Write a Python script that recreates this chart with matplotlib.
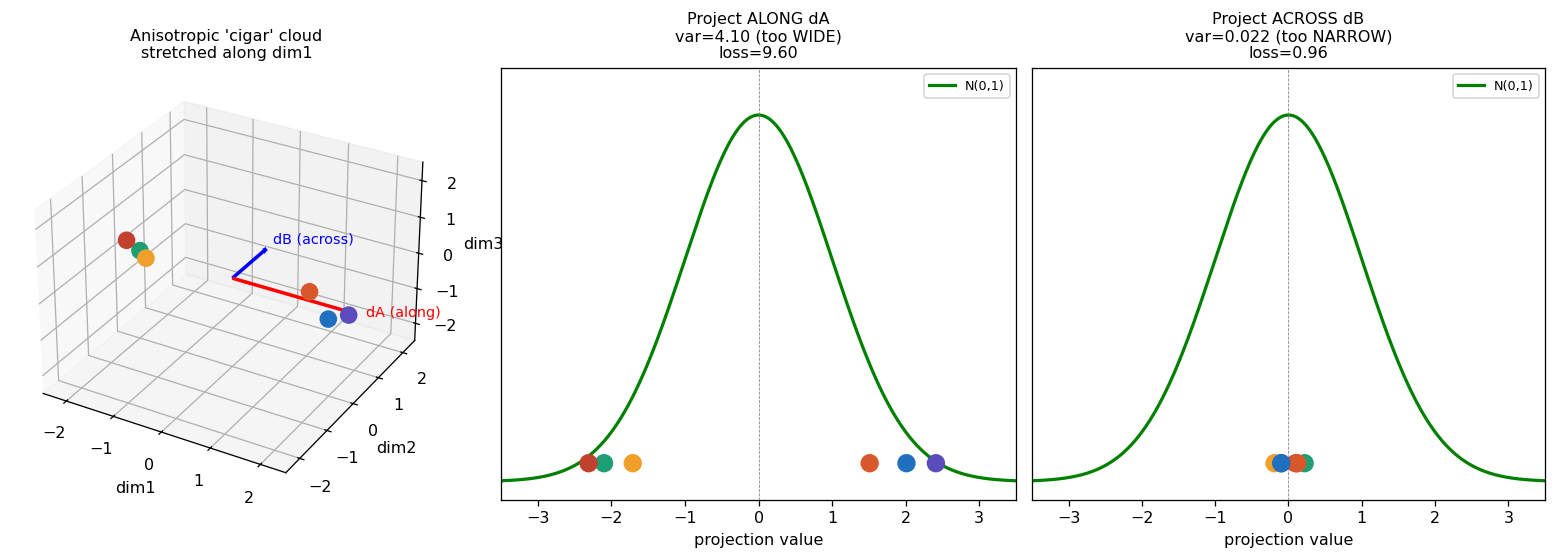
import matplotlib
import matplotlib.pyplot as plt
import numpy as np

matplotlib.use('Agg')

# points of the cloud (drawing order matters for overlaps)
colors = ["#1e9e74", "#c0412e", "#d9582b", "#5b4cbb", "#f0a02a", "#2070c0"]
dim1 = [-2.10, -2.31, 1.51, 2.41, -1.71, 2.01]
dim2 = [0.22, 0.10, 0.12, -0.10, -0.19, -0.10]
dim3 = [-0.17, 0.12, 0.13, 0.0, 0.03, -0.27]

dA = np.array([1.0, 0.0, 0.0])
dB = np.array([0.0, 1.0, 0.0])

titles = ["Project ALONG dA\nvar=4.10 (too WIDE)\nloss=9.60",
          "Project ACROSS dB\nvar=0.022 (too NARROW)\nloss=0.96"]

pts = np.column_stack([dim1, dim2, dim3])

fig = plt.figure(figsize=(1557 / 115, 558 / 115), dpi=115)

# 3d cloud
ax3 = fig.add_axes([0.005, 0.104, 0.281, 0.774], projection='3d')
ax3.scatter(pts[:, 0], pts[:, 1], pts[:, 2], c=colors, s=100, depthshade=False, alpha=1)
ax3.quiver(0, 0, 0, *(dA * 2.5), color='red', linewidth=2.2, arrow_length_ratio=0.04)
ax3.quiver(0, 0, 0, *(dB * 1.25), color='blue', linewidth=2.2, arrow_length_ratio=0.1)
ax3.text(*(dA * 2.7), "dA (along)", color='red', fontsize=9)
ax3.text(*(dB * 1.5), "dB (across)", color='blue', fontsize=9)
ax3.set_xlim(-2.5, 2.5)
ax3.set_ylim(-2.5, 2.5)
ax3.set_zlim(-2.5, 2.5)
ax3.set_xticks([-2, -1, 0, 1, 2])
ax3.set_yticks([-2, -1, 0, 1, 2])
ax3.set_zticks([-2, -1, 0, 1, 2])
ax3.set_xlabel("dim1")
ax3.set_ylabel("dim2")
ax3.set_zlabel("dim3")
ax3.set_title("Anisotropic 'cigar' cloud\nstretched along dim1", fontsize=10)

# projections
xs = np.linspace(-3.5, 3.5, 400)
pdf = np.exp(-xs ** 2 / 2) / np.sqrt(2 * np.pi)

positions = [[0.3218, 0.104, 0.3308, 0.774], [0.6628, 0.104, 0.3295, 0.774]]
for pos, d, title in zip(positions, [dA, dB], titles):
    ax = fig.add_axes(pos)
    proj = pts @ d
    ax.plot(xs, pdf, color='green', linewidth=2, label='N(0,1)')
    ax.axvline(0, color='grey', linestyle='--', linewidth=0.5)
    ax.scatter(proj, np.full(len(proj), 0.02), c=colors, s=110, zorder=3)
    ax.set_xlim(-3.5, 3.5)
    ax.set_ylim(-0.02, 0.45)
    ax.set_yticks([])
    ax.set_xlabel("projection value")
    ax.set_title(title, fontsize=10)
    ax.legend(loc='upper right', fontsize=8)

plt.savefig("out.png", dpi=115)
plt.close()
